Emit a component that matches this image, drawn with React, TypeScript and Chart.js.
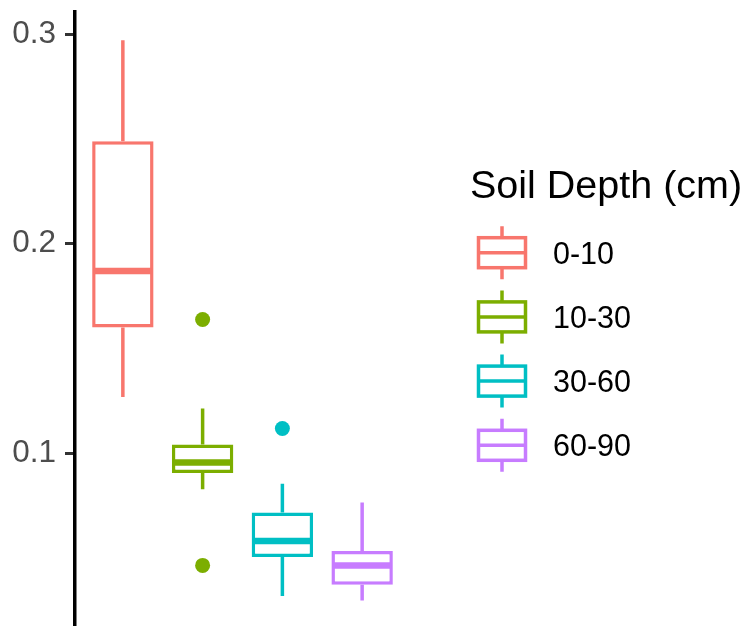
import React, { useEffect, useRef } from "react";
import { Chart, registerables } from "chart.js";

Chart.register(...registerables);

const depths = ["0-10", "10-30", "30-60", "60-90"];
const colors = ["#F8766D", "#7CAE00", "#00BFC4", "#C77CFF"];
const whiskerLow = [0.1269, 0.0828, 0.0319, 0.0298];
const q1 = [0.16, 0.0906, 0.0505, 0.0373];
const medians = [0.1869, 0.0956, 0.0581, 0.0465];
const q3 = [0.2489, 0.1042, 0.0717, 0.0534];
const whiskerHigh = [0.297, 0.1213, 0.0855, 0.0765];
const outlierGroup = [2, 2, 3];
const outlierValues = [0.1638, 0.0465, 0.1118];
const yTicks = [0.1, 0.2, 0.3];
const yMin = 0.0176;
const yMax = 0.3105;
const xMin = 0.4;
const xMax = 4.6;
const legendTitle = "Soil Depth (cm)";

const FONT = "'Liberation Sans', Arial, Helvetica, sans-serif";

const boxPlugin = {
  id: "boxWhiskers",
  afterDatasetsDraw(chart: any) {
    const ctx = chart.ctx;
    const y = chart.scales.y;
    const meta = chart.getDatasetMeta(0);
    ctx.save();
    meta.data.forEach((bar: any, i: number) => {
      const { x: cx, width } = bar.getProps(["x", "width"], true);
      ctx.strokeStyle = colors[i];
      ctx.lineCap = "butt";
      ctx.lineWidth = 3.5;
      ctx.beginPath();
      ctx.moveTo(cx, y.getPixelForValue(q3[i]));
      ctx.lineTo(cx, y.getPixelForValue(whiskerHigh[i]));
      ctx.moveTo(cx, y.getPixelForValue(q1[i]));
      ctx.lineTo(cx, y.getPixelForValue(whiskerLow[i]));
      ctx.stroke();
      ctx.lineWidth = 6.5;
      ctx.beginPath();
      const my = y.getPixelForValue(medians[i]);
      ctx.moveTo(cx - width / 2 + 1.75, my);
      ctx.lineTo(cx + width / 2 - 1.75, my);
      ctx.stroke();
    });
    ctx.restore();
  },
};

const legendPlugin = {
  id: "boxLegend",
  afterDraw(chart: any) {
    const ctx = chart.ctx;
    ctx.save();
    ctx.fillStyle = "#000000";
    ctx.textAlign = "left";
    ctx.textBaseline = "alphabetic";
    ctx.font = `39.5px ${FONT}`;
    ctx.fillText(legendTitle, 470, 197.5);
    const keyX = 502;
    const startY = 252.7;
    const step = 64.2;
    depths.forEach((d, i) => {
      const cy = startY + i * step;
      ctx.strokeStyle = colors[i];
      ctx.lineWidth = 3.5;
      ctx.strokeRect(keyX - 23.5, cy - 15, 47, 30);
      ctx.beginPath();
      ctx.moveTo(keyX - 23.5, cy);
      ctx.lineTo(keyX + 23.5, cy);
      ctx.moveTo(keyX, cy - 15);
      ctx.lineTo(keyX, cy - 26.5);
      ctx.moveTo(keyX, cy + 15);
      ctx.lineTo(keyX, cy + 26.5);
      ctx.stroke();
      ctx.fillStyle = "#000000";
      ctx.font = `30.5px ${FONT}`;
      ctx.fillText(d, 553, cy + 11);
    });
    ctx.restore();
  },
};

export default function App() {
  const ref = useRef<HTMLCanvasElement | null>(null);
  useEffect(() => {
    document.body.style.margin = "0";
    const canvas = ref.current;
    if (!canvas) return;
    const chart = new Chart(canvas, {
      type: "bar",
      data: {
        datasets: [
          {
            type: "bar",
            label: "box",
            data: depths.map((_, i) => ({ x: i + 1, y: [q1[i], q3[i]] })) as any,
            backgroundColor: "#ffffff",
            borderColor: colors,
            borderWidth: 3.5,
            borderSkipped: false,
            barPercentage: 0.77,
            categoryPercentage: 1,
          } as any,
          {
            type: "scatter",
            label: "outliers",
            data: outlierGroup.map((g, i) => ({ x: g, y: outlierValues[i] })),
            backgroundColor: outlierGroup.map((g) => colors[g - 1]),
            borderWidth: 0,
            pointRadius: 7.5,
            pointHoverRadius: 7.5,
            showLine: false,
          } as any,
        ],
      },
      options: {
        animation: false,
        responsive: false,
        devicePixelRatio: 1,
        layout: { autoPadding: false, padding: { top: 12, right: 346, bottom: 0, left: 0 } },
        plugins: {
          legend: { display: false },
          tooltip: { enabled: false },
        },
        scales: {
          x: {
            type: "linear",
            min: xMin,
            max: xMax,
            offset: false,
            display: false,
            grid: { offset: false },
            afterBuildTicks: (s: any) => {
              s.ticks = depths.map((_, i) => ({ value: i + 1 }));
            },
          },
          y: {
            type: "linear",
            min: yMin,
            max: yMax,
            afterFit: (s: any) => {
              s.width = 75;
              s.paddingTop = 0;
              s.paddingBottom = 0;
            },
            afterBuildTicks: (s: any) => {
              s.ticks = yTicks.map((v) => ({ value: v }));
            },
            ticks: {
              color: "#4D4D4D",
              font: { family: FONT, size: 31.5 },
              padding: 9,
              callback: (v: any) => Number(v).toFixed(1),
            },
            grid: {
              drawOnChartArea: false,
              drawTicks: true,
              tickLength: 10,
              tickWidth: 3,
              tickColor: "#333333",
            },
            border: { display: true, color: "#000000", width: 3.5 },
          },
        },
      } as any,
      plugins: [boxPlugin, legendPlugin],
    });
    return () => chart.destroy();
  }, []);
  return (
    <div style={{ width: 756, height: 626 }}>
      <canvas ref={ref} width={756} height={626} style={{ display: "block" }} />
    </div>
  );
}
